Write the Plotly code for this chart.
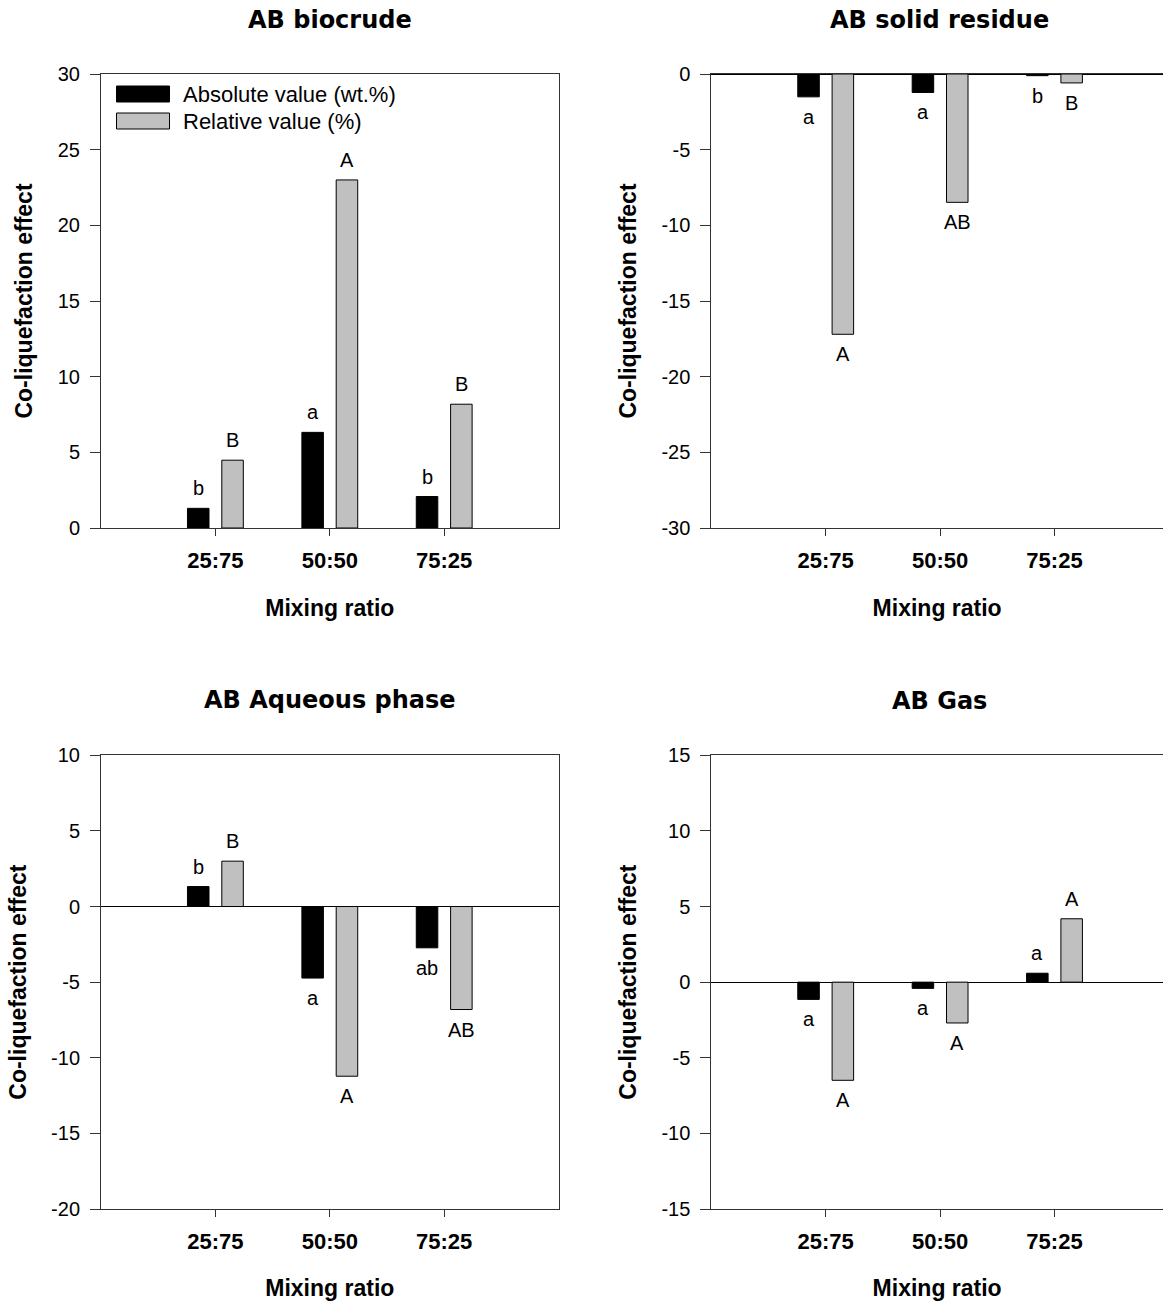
import plotly.graph_objects as go

# Mixing ratios (x categories)
ratios = ["25:75", "50:50", "75:25"]

panel_titles = ["AB biocrude", "AB solid residue", "AB Aqueous phase", "AB Gas"]
series_names = ["Absolute value (wt.%)", "Relative value (%)"]

# Co-liquefaction effect per product fraction
biocrude_abs = [1.30, 6.32, 2.08]
biocrude_rel = [4.48, 23.0, 8.18]
biocrude_abs_grp = ["b", "a", "b"]
biocrude_rel_grp = ["B", "A", "B"]

solid_abs = [-1.51, -1.22, -0.11]
solid_rel = [-17.2, -8.48, -0.59]
solid_abs_grp = ["a", "a", "b"]
solid_rel_grp = ["A", "AB", "B"]

aqueous_abs = [1.32, -4.73, -2.73]
aqueous_rel = [3.0, -11.22, -6.81]
aqueous_abs_grp = ["b", "a", "ab"]
aqueous_rel_grp = ["B", "A", "AB"]

gas_abs = [-1.14, -0.41, 0.59]
gas_rel = [-6.49, -2.70, 4.19]
gas_abs_grp = ["a", "a", "a"]
gas_rel_grp = ["A", "A", "A"]

y_ranges = [[0, 30], [-30, 0], [-20, 10], [-15, 15]]

panels = [
    (biocrude_abs, biocrude_rel, biocrude_abs_grp, biocrude_rel_grp),
    (solid_abs, solid_rel, solid_abs_grp, solid_rel_grp),
    (aqueous_abs, aqueous_rel, aqueous_abs_grp, aqueous_rel_grp),
    (gas_abs, gas_rel, gas_abs_grp, gas_rel_grp),
]

W, H = 1163, 1301
FONT = "Liberation Sans, Arial, sans-serif"
TITLE_FONT = "DejaVu Sans, Verdana, sans-serif"
LINE = "#333333"
GREY = "#c0c0c0"


def px(x):
    return x / W


def py(y):
    return 1 - y / H


# pixel boxes of the four panels (left, right, top, bottom)
left_dom = [px(101), px(558.6)]
right_dom = [px(711.3), 1.0]
top_dom = [py(528), py(74)]
bot_dom = [py(1209), py(755.3)]
domains = [
    (left_dom, top_dom),
    (right_dom, top_dom),
    (left_dom, bot_dom),
    (right_dom, bot_dom),
]
title_pos = [(329.8, 20), (940, 20), (329.8, 700), (940, 701)]

fig = go.Figure()
annotations = []
layout = {}

OFF = 0.15
for i, ((abs_v, rel_v, abs_g, rel_g), (xd, yd)) in enumerate(zip(panels, domains)):
    n = "" if i == 0 else str(i + 1)
    xa, ya = "x" + n, "y" + n
    fig.add_trace(go.Bar(x=ratios, y=abs_v, name=series_names[0], xaxis=xa, yaxis=ya,
                         marker=dict(color="black", line=dict(color="black", width=1)),
                         showlegend=False))
    fig.add_trace(go.Bar(x=ratios, y=rel_v, name=series_names[1], xaxis=xa, yaxis=ya,
                         marker=dict(color=GREY, line=dict(color="black", width=1)),
                         showlegend=False))
    # significance letters at the end of each bar
    for vals, grps, shift in ((abs_v, abs_g, -OFF), (rel_v, rel_g, OFF)):
        for k, (v, g) in enumerate(zip(vals, grps)):
            annotations.append(dict(
                x=k + shift, y=v, xref=xa, yref=ya, text=g, showarrow=False,
                xanchor="center", yanchor="bottom" if v >= 0 else "top",
                yshift=7 if v >= 0 else -7,
                font=dict(family=FONT, size=20, color="black")))

    right_side = i in (1, 3)
    lo, hi = y_ranges[i]
    yticks = list(range(lo, hi + 1, 5))
    layout["xaxis" + n] = dict(
        domain=xd, anchor=ya, type="category", categoryorder="array",
        categoryarray=ratios,
        range=[-1, -1 + (W - 711.3) / 114.4] if right_side else [-1, 3],
        showline=True, linecolor=LINE, linewidth=1, mirror=True,
        ticks="outside", ticklen=7, tickcolor=LINE, showgrid=False,
        ticklabelstandoff=6,
        tickfont=dict(family=FONT, size=22, color="black", weight="bold"),
        title=dict(text="Mixing ratio", standoff=27,
                   font=dict(family=FONT, size=23, color="black", weight="bold")),
        automargin=False, fixedrange=True)
    layout["yaxis" + n] = dict(
        domain=yd, anchor=xa, range=y_ranges[i],
        tickmode="array", tickvals=yticks, ticktext=[str(t) for t in yticks],
        showline=True, linecolor=LINE, linewidth=1, mirror=not right_side,
        ticks="outside", ticklen=10, tickcolor=LINE, showgrid=False,
        zeroline=True, zerolinecolor="black", zerolinewidth=1,
        ticklabelstandoff=6,
        tickfont=dict(family=FONT, size=20, color="black"),
        title=dict(text="Co-liquefaction effect", standoff=18,
                   font=dict(family=FONT, size=23, color="black", weight="bold")),
        automargin=False, fixedrange=True)

    tx, ty = title_pos[i]
    annotations.append(dict(
        x=px(tx), y=py(ty), xref="paper", yref="paper", text=panel_titles[i],
        showarrow=False, xanchor="center", yanchor="middle",
        font=dict(family=TITLE_FONT, size=24, color="black", weight="bold")))

# legend drawn inside the first panel
shapes = [
    dict(type="rect", xref="paper", yref="paper", x0=px(116.5), x1=px(169.5),
         y0=py(102), y1=py(86), fillcolor="black", line=dict(color="black", width=1)),
    dict(type="rect", xref="paper", yref="paper", x0=px(116.5), x1=px(169.5),
         y0=py(129), y1=py(113), fillcolor=GREY, line=dict(color="black", width=1)),
]
for name, yc in zip(series_names, (94.5, 121.5)):
    annotations.append(dict(
        x=px(181), y=py(yc), xref="paper", yref="paper", text=name, showarrow=False,
        xanchor="left", yanchor="middle",
        font=dict(family=FONT, size=22, color="black")))

fig.update_layout(
    width=W, height=H, margin=dict(l=0, r=0, t=0, b=0),
    paper_bgcolor="white", plot_bgcolor="white",
    barmode="group", bargap=0.4, bargroupgap=0.373,
    annotations=annotations, shapes=shapes,
    font=dict(family=FONT, color="black"),
    **layout)

fig.write_html("out.html")
